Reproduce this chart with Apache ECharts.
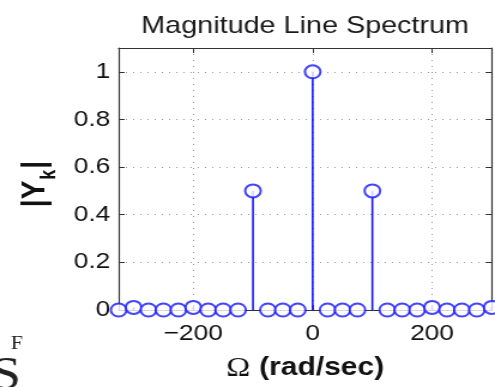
<!DOCTYPE html>
<html>
<head>
<meta charset="utf-8">
<script src="https://cdn.jsdelivr.net/npm/echarts@6/dist/echarts.min.js"></script>
<style>
  html, body { margin: 0; padding: 0; background: #fff; overflow: hidden; }
  #wrap { width: 495px; height: 387px; overflow: hidden; position: relative; }
  /* the figure is drawn narrower and widened horizontally, like the exported plot */
  #chart { width: 413px; height: 387px; transform: scaleX(1.1985); transform-origin: 0 0; }
</style>
</head>
<body>
<div id="wrap"><div id="chart"></div></div>
<script>
// Line spectrum samples: frequency (rad/sec) and magnitude |Y_k|
const omega = [-325, -300, -275, -250, -225, -200, -175, -150, -125, -100, -75, -50, -25,
               0, 25, 50, 75, 100, 125, 150, 175, 200, 225, 250, 275, 300];
const magnitude = [0, 0.011, 0, 0, 0, 0.011, 0, 0, 0, 0.5, 0, 0, 0,
                   1, 0, 0, 0, 0.5, 0, 0, 0, 0.011, 0, 0, 0, 0.011];
const xTicks = [-200, 0, 200];
const yTicks = [0, 0.2, 0.4, 0.6, 0.8, 1];
const xRange = [-325, 300];
const yRange = [0, 1.1];

const points = omega.map((w, i) => [w, magnitude[i]]);

const stemBlue = '#1616ff';
const boxColor = '#333';
const gridStyle = { color: '#9a9a9a', width: 1, type: [1, 5] };
const labelFont = { color: '#111', fontSize: 22, fontFamily: 'Liberation Sans, Arial, sans-serif' };

const chart = echarts.init(document.getElementById('chart'), null, { renderer: 'canvas' });

chart.setOption({
  animation: false,
  backgroundColor: '#fff',
  title: {
    text: 'Magnitude Line Spectrum',
    left: 254.6,
    textAlign: 'center',
    top: 14,
    padding: 0,
    textStyle: { color: '#1a1a1a', fontSize: 24, fontWeight: 'normal', fontFamily: 'Liberation Sans, Arial, sans-serif' }
  },
  grid: { left: 99, right: 2.7, top: 48, bottom: 75.3, containLabel: false },
  xAxis: [
    {
      type: 'value', min: xRange[0], max: xRange[1], position: 'bottom',
      axisLine: { show: true, onZero: false, lineStyle: { color: boxColor, width: 1.2 } },
      axisTick: { show: true, inside: true, length: 5, customValues: xTicks, lineStyle: { color: boxColor } },
      axisLabel: Object.assign({
        customValues: xTicks, margin: 13,
        formatter: v => (v < 0 ? '\u2212' + Math.abs(v) : String(v))
      }, labelFont),
      splitLine: { show: true, lineStyle: gridStyle },
      name: '{o|\u03A9} {b|(rad/sec)}',
      nameLocation: 'middle',
      nameGap: 45,
      nameTextStyle: {
        rich: {
          o: { fontSize: 27, fontFamily: 'Liberation Serif, Times New Roman, serif', color: '#111', padding: [0, 4, 0, 0] },
          b: { fontSize: 25, fontWeight: 'bold', fontFamily: 'Liberation Sans, Arial, sans-serif', color: '#111' }
        }
      }
    },
    {
      type: 'value', min: xRange[0], max: xRange[1], position: 'top',
      axisLine: { show: true, onZero: false, lineStyle: { color: boxColor, width: 1.2 } },
      axisTick: { show: true, inside: true, length: 5, customValues: xTicks, lineStyle: { color: boxColor } },
      axisLabel: { show: false },
      splitLine: { show: false }
    }
  ],
  yAxis: [
    {
      type: 'value', min: yRange[0], max: yRange[1], position: 'left',
      axisLine: { show: true, onZero: false, lineStyle: { color: boxColor, width: 1.2 } },
      axisTick: { show: true, inside: true, length: 5, customValues: yTicks, lineStyle: { color: boxColor } },
      axisLabel: Object.assign({ customValues: yTicks, margin: 7, formatter: v => String(v) }, labelFont),
      splitLine: { show: true, lineStyle: gridStyle },
      name: '{b|\u007CY}{s|k}{b|\u007C}',
      nameLocation: 'middle',
      nameGap: 50,
      nameTextStyle: {
        padding: [0, 10, 0, 0],
        rich: {
          b: { fontSize: 28, fontWeight: 'bold', fontFamily: 'Liberation Sans, Arial, sans-serif', color: '#111', verticalAlign: 'top', lineHeight: 29 },
          s: { fontSize: 18, fontWeight: 'bold', fontFamily: 'Liberation Sans, Arial, sans-serif', color: '#111', verticalAlign: 'top', padding: [17, 1, 0, 1], lineHeight: 18 }
        }
      }
    },
    {
      type: 'value', min: yRange[0], max: yRange[1], position: 'right',
      axisLine: { show: true, onZero: false, lineStyle: { color: boxColor, width: 1.2 } },
      axisTick: { show: true, inside: true, length: 5, customValues: yTicks, lineStyle: { color: boxColor } },
      axisLabel: { show: false },
      splitLine: { show: false }
    }
  ],
  series: [
    {
      name: 'stem',
      type: 'bar',
      xAxisIndex: 0, yAxisIndex: 0,
      data: points,
      barWidth: 1.6,
      itemStyle: { color: stemBlue },
      silent: true
    },
    {
      name: 'marker',
      type: 'scatter',
      xAxisIndex: 0, yAxisIndex: 0,
      data: points,
      symbol: 'emptyCircle',
      symbolSize: 13,
      clip: false,
      itemStyle: { color: stemBlue, borderColor: stemBlue, borderWidth: 2 },
      z: 5
    }
  ],
  graphic: [
    { type: 'text', x: 9, y: 353, style: { text: 'F', fontSize: 18, fontFamily: 'Liberation Serif, serif', fill: '#222', verticalAlign: 'bottom' } },
    { type: 'text', x: -8, y: 400, style: { text: 'S', fontSize: 46, fontFamily: 'Liberation Serif, serif', fill: '#222', verticalAlign: 'bottom' } }
  ]
});
</script>
</body>
</html>
